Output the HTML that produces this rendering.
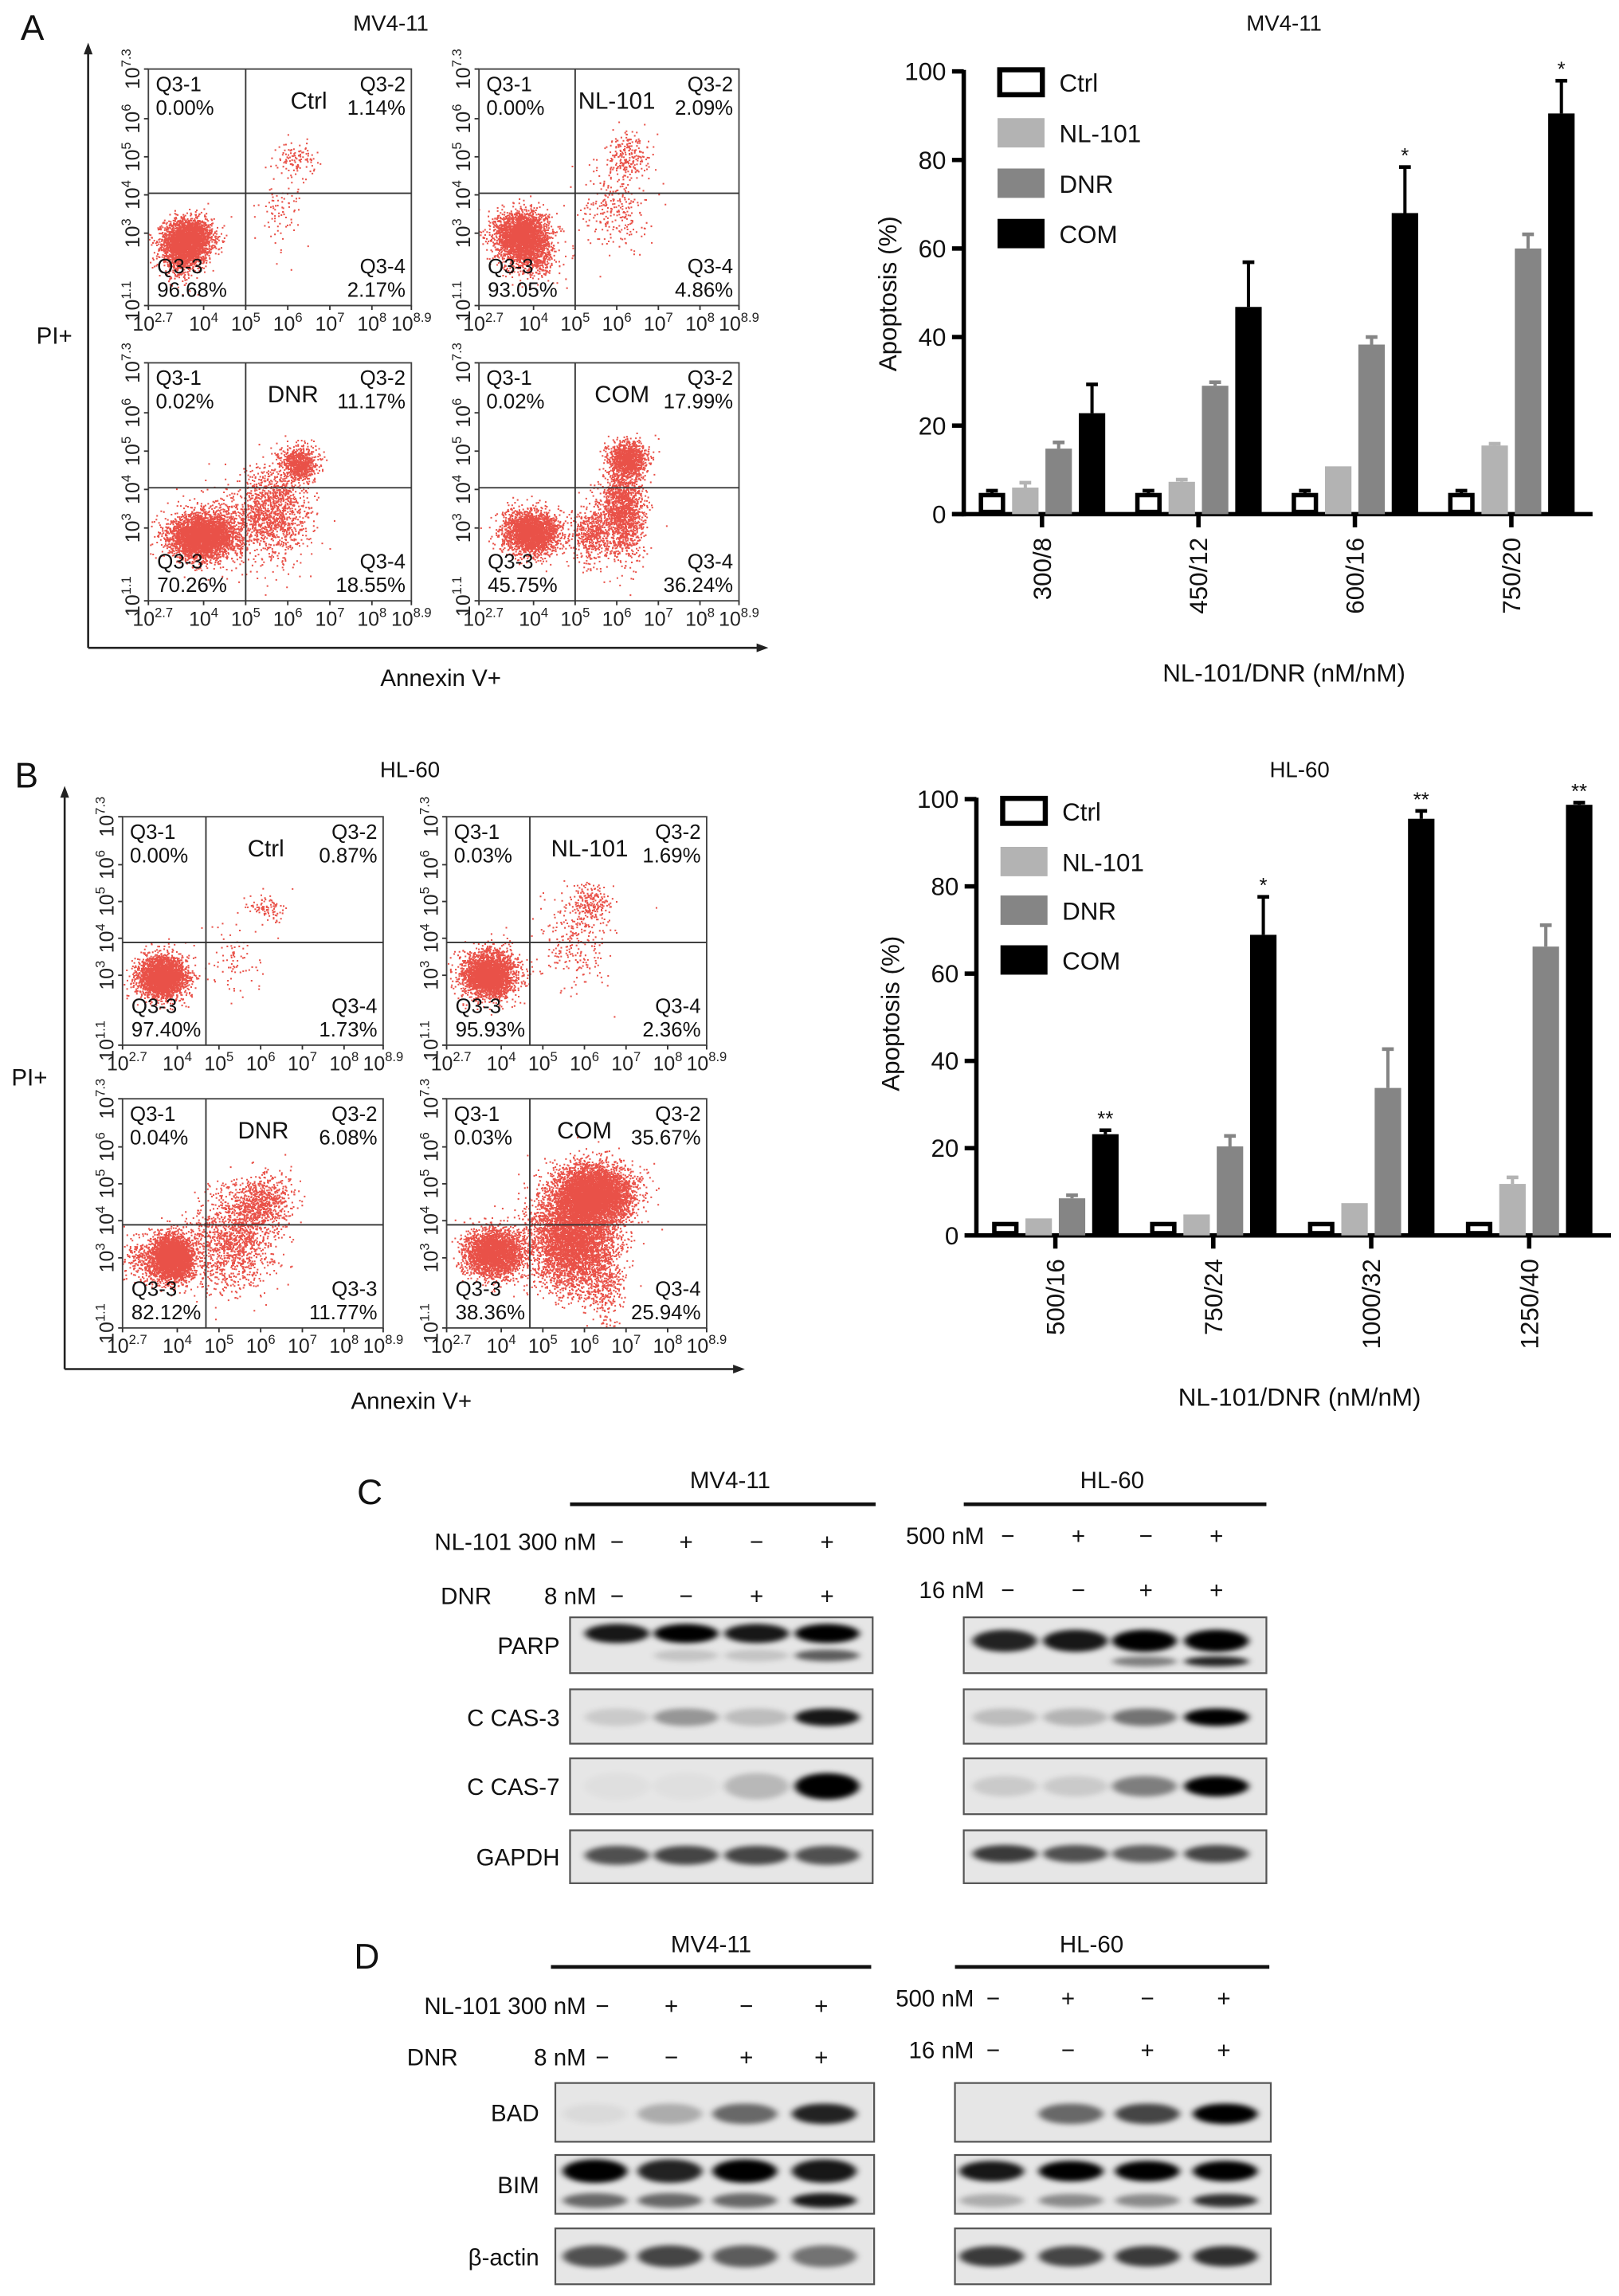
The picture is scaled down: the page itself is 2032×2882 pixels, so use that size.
<!DOCTYPE html>
<html><head><meta charset="utf-8"><style>
html,body{margin:0;padding:0;background:#fff;}
svg{display:block;font-family:"Liberation Sans",Arial,sans-serif;}
</style></head><body>
<svg id="fig" width="2032" height="2882" viewBox="0 0 1102 1563" xmlns="http://www.w3.org/2000/svg">
<defs>
<filter id="blur" x="-30%" y="-80%" width="160%" height="260%"><feGaussianBlur stdDeviation="2.4 1.7"/></filter>
</defs>
<g id="root"></g>
</svg>
<script>
// ---------- Bar chart data (panel A: MV4-11) ----------
const catsA = ["300/8","450/12","600/16","750/20"];
const ctrlA = [4.3,4.3,4.3,4.3];
const ctrlErrA = [5.3,5.3,5.3,5.3];
const nlA = [6.0,7.3,10.8,15.5];
const nlErrA = [7.1,7.8,10.8,15.9];
const dnrA = [14.8,29.0,38.3,60.0];
const dnrErrA = [16.2,29.8,40.0,63.2];
const comA = [22.8,46.8,68.0,90.5];
const comErrA = [29.3,56.9,78.4,97.9];
const starsA = ["","","*","*"];
// ---------- Bar chart data (panel B: HL-60) ----------
const catsB = ["500/16","750/24","1000/32","1250/40"];
const ctrlB = [2.6,2.6,2.6,2.6];
const ctrlErrB = [2.6,2.6,2.6,2.6];
const nlB = [3.9,4.8,7.4,11.8];
const nlErrB = [3.9,4.8,7.4,13.3];
const dnrB = [8.5,20.4,33.8,66.2];
const dnrErrB = [9.2,22.8,42.7,71.1];
const comB = [23.2,68.9,95.5,98.7];
const comErrB = [24.1,77.6,97.3,99.2];
const starsB = ["**","*","**","**"];
const yTicks = [0,20,40,60,80,100];
const legendLabels = ["Ctrl","NL-101","DNR","COM"];

const NS = "http://www.w3.org/2000/svg";
const root = document.getElementById('root');
function el(tag, attrs, parent, text){
  const e = document.createElementNS(NS, tag);
  for (const k in attrs) e.setAttribute(k, attrs[k]);
  if (text !== undefined) e.textContent = text;
  (parent || root).appendChild(e);
  return e;
}
function txt(x,y,s,size,anchor,parent,name){
  const t = el('text',{x:x,y:y,'font-size':size,'text-anchor':anchor||'start',fill:'#111'},parent,s);
  
  
  return t;
}

// ---------- Panel letters ----------
[["A",14,27],["B",10,536],["C",243,1024],["D",241,1340]].forEach(p=>{
  txt(p[1],p[2],p[0],24,'start',root,'panel-letter-'+p[0].toLowerCase());
});

// ---------- Bar charts ----------
function barChart(o){
  const g = el('g',{});
  
  
  const yS = v => o.y0 - (o.y0 - o.y100) * v / 100;
  const band = o.band;
  const xC = i => o.ax + band*(i+0.5);
  el('line',{x1:o.ax,y1:o.y0+1.5,x2:o.ax,y2:o.y100-1,stroke:'#000','stroke-width':3},g);
  el('line',{x1:o.ax-8,y1:o.y0,x2:o.ax+band*4+2,y2:o.y0,stroke:'#000','stroke-width':3},g);
  yTicks.forEach(t=>{
    el('line',{x1:o.ax-8,y1:yS(t),x2:o.ax,y2:yS(t),stroke:'#000','stroke-width':3},g);
    txt(o.ax-12,yS(t)+6,String(t),17,'end',g,'y-tick-label');
  });
  o.cats.forEach((c,i)=>{
    el('line',{x1:xC(i),y1:o.y0,x2:xC(i),y2:o.y0+9,stroke:'#000','stroke-width':3},g);
    const t = txt(xC(i)+6,o.y0+16,c,17,'end',g,'x-tick-label');
    t.setAttribute('transform','rotate(-90 '+(xC(i)+6)+' '+(o.y0+16)+')');
  });
  const series = [
    {v:o.ctrl,e:o.ctrlErr,fill:'#fff',err:'#000',n:'ctrl'},
    {v:o.nl,e:o.nlErr,fill:'#b3b3b3',err:'#b3b3b3',n:'nl101'},
    {v:o.dnr,e:o.dnrErr,fill:'#858585',err:'#858585',n:'dnr'},
    {v:o.com,e:o.comErr,fill:'#000',err:'#000',n:'com'}
  ];
  const bw = 18, pitch = 22.7;
  o.cats.forEach((c,i)=>{
    series.forEach((s,j)=>{
      const x = xC(i) - (3*pitch+bw)/2 + j*pitch;
      if (s.e[i] > s.v[i]) {
        el('line',{x1:x+bw/2,y1:yS(s.v[i]),x2:x+bw/2,y2:yS(s.e[i]),stroke:s.err,'stroke-width':2.2},g);
        el('line',{x1:x+bw/2-4,y1:yS(s.e[i]),x2:x+bw/2+4,y2:yS(s.e[i]),stroke:s.err,'stroke-width':2.5},g);
      }
      let r;
      if (s.n==='ctrl') r = el('rect',{x:x+1.5,y:yS(s.v[i]),width:bw-3,height:o.y0-yS(s.v[i])-1.5,fill:'#fff',stroke:'#000','stroke-width':3},g);
      else r = el('rect',{x:x,y:yS(s.v[i]),width:bw,height:o.y0-yS(s.v[i]),fill:s.fill},g);
      
      
      if (j===3 && o.stars[i]) {
        txt(x+bw/2, yS(s.e[i])-3, o.stars[i], 14, 'middle', g, 'significance-star');
      }
    });
  });
  const fills = ['#fff','#b3b3b3','#858585','#000'];
  legendLabels.forEach((l,k)=>{
    const cy = o.legY[k];
    const lg = el('g',{},g);
    
    
    if (k===0) el('rect',{x:o.legX+1.5,y:cy-8.5,width:29,height:17,fill:'#fff',stroke:'#000','stroke-width':3.5},lg);
    else el('rect',{x:o.legX,y:cy-10,width:32,height:20,fill:fills[k]},lg);
    txt(o.legX+42,cy+6.5,l,17,'start',lg,'legend-label');
  });
  const yl = txt(0,0,'Apoptosis (%)',17,'middle',g,'y-axis-title');
  yl.setAttribute('transform','translate('+o.ylx+' '+o.yly+') rotate(-90)');
  txt(o.ax+band*2+5,o.xty,'NL-101/DNR (nM/nM)',17,'middle',g,'x-axis-title');
  txt(o.ax+band*2+5,o.tty,o.title,15,'middle',g,'chart-title');
}
barChart({name:'bar-chart-mv411',ax:656,y0:350,y100:48.6,band:106.5,cats:catsA,ctrl:ctrlA,ctrlErr:ctrlErrA,nl:nlA,nlErr:nlErrA,dnr:dnrA,dnrErr:dnrErrA,com:comA,comErr:comErrA,stars:starsA,legX:679,legY:[56,90.4,124.7,159],ylx:610,yly:200,xty:464,tty:21,title:'MV4-11'});
barChart({name:'bar-chart-hl60',ax:664.6,y0:841,y100:544,band:107.5,cats:catsB,ctrl:ctrlB,ctrlErr:ctrlErrB,nl:nlB,nlErr:nlErrB,dnr:dnrB,dnrErr:dnrErrB,com:comB,comErr:comErrB,stars:starsB,legX:681,legY:[552,586.5,619.6,653.5],ylx:612,yly:690,xty:957,tty:529,title:'HL-60'});

// ---------- Flow cytometry ----------
let seed = 12345;
function rnd(){ seed = (seed*1664525 + 1013904223) % 4294967296; return seed/4294967296; }
function gauss(){ let u=rnd()||1e-9, v=rnd(); return Math.sqrt(-2*Math.log(u))*Math.cos(2*Math.PI*v); }

const xTickExp = ["2.7","4","5","6","7","8","8.9"];
const xTickFr = [0,0.21,0.37,0.53,0.69,0.85,1];
const yTickExp = ["1.1","3","4","5","6","7.3"];
const yTickFr = [0,0.306,0.468,0.629,0.79,1];

function flow(o){
  const g = el('g',{});
  
  
  const L=o.x, T=o.y, Wd=o.w, H=o.h;
  const cid = 'clip-'+o.name;
  const cp = el('clipPath',{id:cid},g); el('rect',{x:L,y:T,width:Wd,height:H},cp);
  const dots = el('g',{'clip-path':'url(#'+cid+')'},g);
  
  
  let d = '';
  o.clusters.forEach(c=>{
    const n = Math.round(c[4]*1.6);
    for (let i=0;i<n;i++){
      const px = L + Wd*(c[0] + c[2]*gauss());
      const py = T + H - H*(c[1] + c[3]*gauss());
      d += 'M'+px.toFixed(1)+' '+py.toFixed(1)+'h1.1v1.1h-1.1z';
    }
  });
  el('path',{d:d,fill:'#e53328','fill-opacity':0.85},dots);
  el('rect',{x:L,y:T,width:Wd,height:H,fill:'none',stroke:'#444','stroke-width':1},g);
  el('line',{x1:L+Wd*o.dx,y1:T,x2:L+Wd*o.dx,y2:T+H,stroke:'#333','stroke-width':1},g);
  el('line',{x1:L,y1:T+H*o.dy,x2:L+Wd,y2:T+H*o.dy,stroke:'#333','stroke-width':1},g);
  xTickFr.forEach((f,i)=>{
    const x = L+Wd*f;
    el('line',{x1:x,y1:T+H,x2:x,y2:T+H+3,stroke:'#333','stroke-width':1},g);
    const t = el('text',{x:x+(i===0?3:0),y:T+H+17,'font-size':13.5,'text-anchor':'middle',fill:'#222'},g);
     
    el('tspan',{},t,'10');
    el('tspan',{dy:-6,'font-size':9},t,xTickExp[i]);
  });
  yTickFr.forEach((f,i)=>{
    const y = T+H-H*f;
    el('line',{x1:L-3,y1:y,x2:L,y2:y,stroke:'#333','stroke-width':1},g);
    const tx = L-6, ty = y+(i===0?-3:0);
    const t = el('text',{x:tx,y:ty,'font-size':13.5,'text-anchor':'middle',fill:'#222',transform:'rotate(-90 '+tx+' '+ty+')'},g);
     
    el('tspan',{},t,'10');
    el('tspan',{dy:-6,'font-size':9},t,yTickExp[i]);
  });
  const fs = 14;
  txt(L+5,T+15,'Q3-1',fs,'start',g,'quadrant-label');
  txt(L+5,T+31,o.q1,fs,'start',g,'quadrant-percent');
  txt(L+Wd-4,T+15,'Q3-2',fs,'end',g,'quadrant-label');
  txt(L+Wd-4,T+31,o.q2,fs,'end',g,'quadrant-percent');
  txt(L+6,T+H-22,'Q3-3',fs,'start',g,'quadrant-label');
  txt(L+6,T+H-6,o.q3,fs,'start',g,'quadrant-percent');
  txt(L+Wd-4,T+H-22,o.q4name||'Q3-4',fs,'end',g,'quadrant-label');
  txt(L+Wd-4,T+H-6,o.q4,fs,'end',g,'quadrant-percent');
  txt(L+Wd*o.tf,T+27,o.treat,16,'middle',g,'treatment-label');
}
// cluster arrays: [x frac, y frac from bottom, sdx, sdy, count]
const clCtrlA = [[0.15,0.28,0.045,0.045,1600],[0.12,0.22,0.04,0.05,400],[0.56,0.62,0.035,0.035,70],[0.5,0.4,0.04,0.07,50]];
const clNlA = [[0.16,0.3,0.05,0.05,1600],[0.2,0.22,0.05,0.05,400],[0.57,0.63,0.04,0.05,140],[0.52,0.42,0.06,0.09,160]];
const clDnrA = [[0.2,0.27,0.06,0.045,2000],[0.26,0.3,0.08,0.06,400],[0.57,0.58,0.035,0.035,450],[0.47,0.37,0.07,0.1,800]];
const clComA = [[0.2,0.29,0.055,0.045,1500],[0.57,0.6,0.035,0.035,700],[0.55,0.38,0.04,0.1,1000],[0.43,0.28,0.035,0.06,300]];
const clCtrlB = [[0.15,0.3,0.045,0.045,1800],[0.55,0.6,0.035,0.035,60],[0.44,0.36,0.06,0.08,50]];
const clNlB = [[0.16,0.31,0.05,0.05,1800],[0.55,0.62,0.04,0.04,120],[0.5,0.45,0.07,0.1,170]];
const clDnrB = [[0.19,0.31,0.04,0.05,1900],[0.12,0.3,0.08,0.05,300],[0.53,0.55,0.06,0.06,450],[0.42,0.38,0.08,0.1,800]];
const clComB = [[0.18,0.33,0.055,0.05,1800],[0.56,0.58,0.075,0.065,3200],[0.48,0.38,0.08,0.1,2600],[0.6,0.2,0.04,0.1,250]];

flow({name:'flow-mv411-ctrl',x:101,y:47,w:179,h:161,dx:0.37,dy:0.525,q1:'0.00%',q2:'1.14%',q3:'96.68%',q4:'2.17%',treat:'Ctrl',tf:0.61,clusters:clCtrlA});
flow({name:'flow-mv411-nl101',x:326,y:47,w:177,h:161,dx:0.37,dy:0.525,q1:'0.00%',q2:'2.09%',q3:'93.05%',q4:'4.86%',treat:'NL-101',tf:0.53,clusters:clNlA});
flow({name:'flow-mv411-dnr',x:101,y:247,w:179,h:162,dx:0.37,dy:0.525,q1:'0.02%',q2:'11.17%',q3:'70.26%',q4:'18.55%',treat:'DNR',tf:0.55,clusters:clDnrA});
flow({name:'flow-mv411-com',x:326,y:247,w:177,h:162,dx:0.37,dy:0.525,q1:'0.02%',q2:'17.99%',q3:'45.75%',q4:'36.24%',treat:'COM',tf:0.55,clusters:clComA});
flow({name:'flow-hl60-ctrl',x:83.4,y:556,w:177.4,h:155.5,dx:0.32,dy:0.55,q1:'0.00%',q2:'0.87%',q3:'97.40%',q4:'1.73%',treat:'Ctrl',tf:0.55,clusters:clCtrlB});
flow({name:'flow-hl60-nl101',x:304,y:556,w:177,h:155.5,dx:0.32,dy:0.55,q1:'0.03%',q2:'1.69%',q3:'95.93%',q4:'2.36%',treat:'NL-101',tf:0.55,clusters:clNlB});
flow({name:'flow-hl60-dnr',x:83.4,y:748,w:177.4,h:156,dx:0.32,dy:0.55,q1:'0.04%',q2:'6.08%',q3:'82.12%',q4:'11.77%',q4name:'Q3-3',treat:'DNR',tf:0.54,clusters:clDnrB});
flow({name:'flow-hl60-com',x:304,y:748,w:177,h:156,dx:0.32,dy:0.55,q1:'0.03%',q2:'35.67%',q3:'38.36%',q4:'25.94%',treat:'COM',tf:0.53,clusters:clComB});

function arrows(x0,yTop,yAx,xEnd,name){
  const g = el('g',{});
  
  
  el('line',{x1:x0,y1:yAx,x2:x0,y2:yTop+6,stroke:'#222','stroke-width':1.4},g);
  el('path',{d:'M'+(x0-3)+' '+(yTop+8)+'L'+x0+' '+yTop+'L'+(x0+3)+' '+(yTop+8)+'Z',fill:'#222'},g);
  el('line',{x1:x0,y1:yAx,x2:xEnd-6,y2:yAx,stroke:'#222','stroke-width':1.4},g);
  el('path',{d:'M'+(xEnd-8)+' '+(yAx-3)+'L'+xEnd+' '+yAx+'L'+(xEnd-8)+' '+(yAx+3)+'Z',fill:'#222'},g);
}
arrows(60,29,441,523,'flow-axes-mv411');
arrows(44,535,932,507,'flow-axes-hl60');
txt(266,21,'MV4-11',15,'middle',root,'flow-title-mv411');
txt(279,529,'HL-60',15,'middle',root,'flow-title-hl60');
txt(37,234,'PI+',16,'middle',root,'flow-y-title-mv411');
txt(20,739,'PI+',16,'middle',root,'flow-y-title-hl60');
txt(300,467,'Annexin V+',16,'middle',root,'flow-x-title-mv411');
txt(280,959,'Annexin V+',16,'middle',root,'flow-x-title-hl60');

// ---------- Western blots ----------
const lanesMV_C = [420,467,515,563], lanesHL_C = [684,732,779,828];
const lanesMV_D = [405,456,507,561], lanesHL_D = [675,729,781,834];
const parpMainMV = [0.9,1,0.9,1], parpCleavMV = [0,0.15,0.15,0.6];
const parpMainHL = [0.85,0.9,1,1], parpCleavHL = [0,0,0.45,0.85];
const cas3MV = [0.12,0.35,0.18,0.9], cas3HL = [0.18,0.22,0.5,1];
const cas7MV = [0.03,0.03,0.2,1], cas7HL = [0.12,0.12,0.45,1];
const gapdhMV = [0.65,0.7,0.7,0.65], gapdhHL = [0.75,0.65,0.6,0.7];
const badMV = [0.05,0.25,0.55,0.85], badHL = [0,0.55,0.7,1];
const bimTopMV = [1,0.85,1,0.9], bimLowMV = [0.55,0.55,0.55,0.9];
const bimTopHL = [0.9,1,1,1], bimLowHL = [0.25,0.4,0.4,0.8];
const actinMV = [0.65,0.7,0.6,0.5], actinHL = [0.75,0.7,0.75,0.8];

function blot(name,x1,x2,y1,y2,lanes,bands){
  const g = el('g',{});
  
  
  el('rect',{x:x1,y:y1,width:x2-x1,height:y2-y1,fill:'#e6e6e6',stroke:'#555','stroke-width':1.2},g);
  const cid='bc-'+name;
  const cp=el('clipPath',{id:cid},g); el('rect',{x:x1,y:y1,width:x2-x1,height:y2-y1},cp);
  const bg=el('g',{'clip-path':'url(#'+cid+')'},g);
  bands.forEach(b=>{
    b.v.forEach((v,i)=>{
      if (v<=0.01) return;
      const e=el('ellipse',{cx:lanes[i],cy:b.y,rx:b.rx||22,ry:b.ry||5,fill:'#000','fill-opacity':Math.min(1,v),filter:'url(#blur)'},bg);
      
      
    });
  });
}
blot('blot-c-mv-parp',388,594,1101,1139,lanesMV_C,[{v:parpMainMV,y:1112,ry:6.5},{v:parpCleavMV,y:1127,ry:4}]);
blot('blot-c-hl-parp',656,862,1101,1139,lanesHL_C,[{v:parpMainHL,y:1117,ry:7.5},{v:parpCleavHL,y:1131,ry:3.5}]);
blot('blot-c-mv-cas3',388,594,1150,1187,lanesMV_C,[{v:cas3MV,y:1169,ry:6}]);
blot('blot-c-hl-cas3',656,862,1150,1187,lanesHL_C,[{v:cas3HL,y:1169,ry:6}]);
blot('blot-c-mv-cas7',388,594,1197,1235,lanesMV_C,[{v:cas7MV,y:1216,ry:9}]);
blot('blot-c-hl-cas7',656,862,1197,1235,lanesHL_C,[{v:cas7HL,y:1216,ry:7}]);
blot('blot-c-mv-gapdh',388,594,1246,1282,lanesMV_C,[{v:gapdhMV,y:1263,ry:6.5}]);
blot('blot-c-hl-gapdh',656,862,1246,1282,lanesHL_C,[{v:gapdhHL,y:1262,ry:6}]);
blot('blot-d-mv-bad',378,595,1418,1458,lanesMV_D,[{v:badMV,y:1439,ry:7}]);
blot('blot-d-hl-bad',650,865,1418,1458,lanesHL_D,[{v:badHL,y:1439,ry:7}]);
blot('blot-d-mv-bim',378,595,1467,1507,lanesMV_D,[{v:bimTopMV,y:1478,ry:8},{v:bimLowMV,y:1498,ry:5}]);
blot('blot-d-hl-bim',650,865,1467,1507,lanesHL_D,[{v:bimTopHL,y:1478,ry:7},{v:bimLowHL,y:1498,ry:4.5}]);
blot('blot-d-mv-actin',378,595,1517,1555,lanesMV_D,[{v:actinMV,y:1536,ry:7.5}]);
blot('blot-d-hl-actin',650,865,1517,1555,lanesHL_D,[{v:actinHL,y:1536,ry:7}]);

function header(o){
  txt(o.mvT,o.ty,'MV4-11',16,'middle',root,'blot-title-mv411');
  txt(o.hlT,o.ty,'HL-60',16,'middle',root,'blot-title-hl60');
  const u1=el('line',{x1:o.mvU[0],y1:o.uy,x2:o.mvU[1],y2:o.uy,stroke:'#111','stroke-width':2.5});
   
  const u2=el('line',{x1:o.hlU[0],y1:o.uy,x2:o.hlU[1],y2:o.uy,stroke:'#111','stroke-width':2.5});
   
  txt(o.mvR,o.r1+6,'NL-101 300 nM',16,'end',root,'treatment-row-label');
  txt(o.dnrX,o.r2+6,'DNR',16,'start',root,'treatment-row-label');
  txt(o.mvR,o.r2+6,'8 nM',16,'end',root,'treatment-row-label');
  txt(o.hlR,o.h1+6,'500 nM',16,'end',root,'treatment-row-label');
  txt(o.hlR,o.h2+6,'16 nM',16,'end',root,'treatment-row-label');
  const s1=['−','+','−','+'], s2=['−','−','+','+'];
  o.mvS.forEach((x,i)=>{ txt(x,o.r1+6,s1[i],16,'middle',root,'sign'); txt(x,o.r2+6,s2[i],16,'middle',root,'sign'); });
  o.hlS.forEach((x,i)=>{ txt(x,o.h1+6,s1[i],16,'middle',root,'sign'); txt(x,o.h2+6,s2[i],16,'middle',root,'sign'); });
  o.rows.forEach(r=>txt(o.labR,r[1],r[0],16,'end',root,'blot-row-label'));
}
header({mvT:497,hlT:757,ty:1013,uy:1024,mvU:[388,596],hlU:[656,862],mvR:406,hlR:670,dnrX:300,
  r1:1049,r2:1086,h1:1045,h2:1082,mvS:[420,467,515,563],hlS:[686,734,780,828],labR:381,
  rows:[['PARP',1126],['C CAS-3',1175],['C CAS-7',1222],['GAPDH',1270]]});
header({mvT:484,hlT:743,ty:1329,uy:1339,mvU:[375,593],hlU:[650,864],mvR:399,hlR:663,dnrX:277,
  r1:1365,r2:1400,h1:1360,h2:1395,mvS:[410,457,508,559],hlS:[676,727,781,833],labR:367,
  rows:[['BAD',1444],['BIM',1493],['β-actin',1542]]});
</script>
</body></html>
